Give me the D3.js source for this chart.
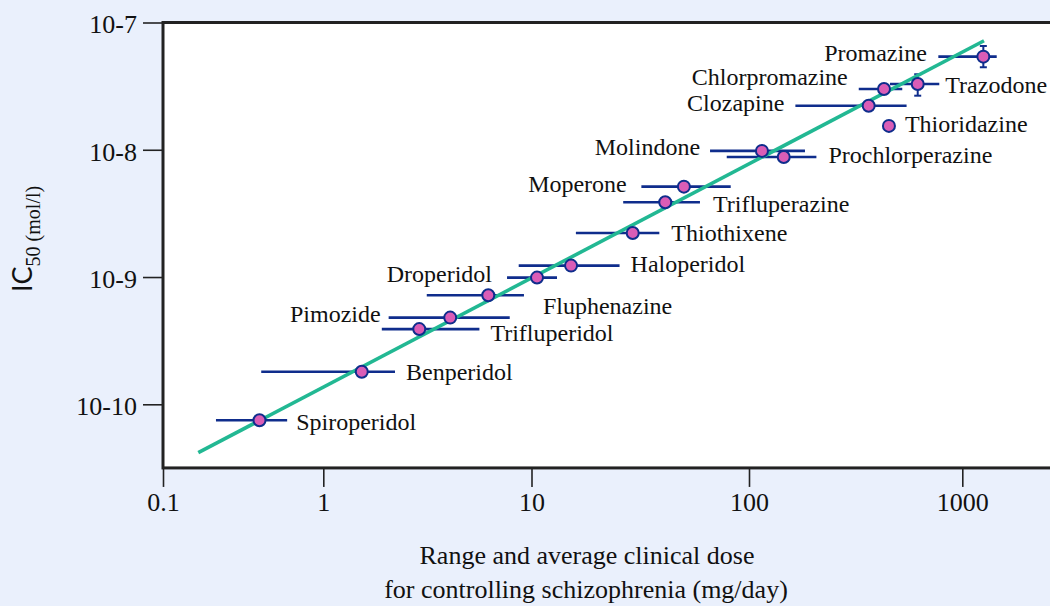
<!DOCTYPE html>
<html>
<head>
<meta charset="utf-8">
<script src="https://cdn.jsdelivr.net/npm/d3@7"></script>
<style>
  html, body { margin: 0; padding: 0; background: #EAF0FC; }
  svg { display: block; }
  text { font-family: "Liberation Serif", "Times New Roman", serif; fill: #111; }
  tspan.sans { font-family: "Lato", "Open Sans", "DejaVu Sans", sans-serif; }
</style>
</head>
<body>
<svg id="chart" width="1050" height="606"></svg>
<script>
// Antipsychotic drugs: clinical dose (mg/day) vs. IC50 for displacing [3H]haloperidol
const drugs = ["Spiroperidol", "Benperidol", "Trifluperidol", "Pimozide", "Fluphenazine",
  "Droperidol", "Haloperidol", "Thiothixene", "Trifluperazine", "Moperone", "Molindone",
  "Prochlorperazine", "Clozapine", "Thioridazine", "Chlorpromazine", "Trazodone", "Promazine"];

// average clinical dose and its range (mg/day)
const doseAvg = [0.40, 1.53, 2.89, 4.07, 6.2, 10.6, 15.2, 29.2, 41.2, 50.2, 115, 145.5, 364, 453, 429.5, 618, 1255];
const doseMin = [0.214, 0.41, 1.91, 2.06, 3.14, 7.63, 8.68, 16.0, 26.4, 32.0, 66.2, 79, 165, null, 327, 458, 772];
const doseMax = [0.595, 2.21, 5.62, 7.86, 9.2, 13.1, 25.4, 38.7, 59.5, 82.4, 183, 207, 548, null, 523, 780, 1450];

// IC50 (mol/l) and its spread where one was measured
const ic50 = [7.5e-11, 1.8e-10, 3.9e-10, 4.8e-10, 7.2e-10, 9.9e-10, 1.23e-9, 2.22e-9, 3.87e-9,
  5.13e-9, 9.8e-9, 8.77e-9, 2.22e-8, 1.54e-8, 3.0e-8, 3.29e-8, 5.39e-8];
const ic50Min = [null, null, null, null, null, null, null, null, null, null, null, null, null, null, null, 2.66e-8, 4.45e-8];
const ic50Max = [null, null, null, null, null, null, null, null, null, null, null, null, null, null, null, 3.92e-8, 6.54e-8];

// regression line end points
const fitDose = [0.166, 1264];
const fitIC50 = [4.17e-11, 7.19e-8];

// axis ticks
const xTicks = [0.1, 1, 10, 100, 1000];
const yTicks = [1e-7, 1e-8, 1e-9, 1e-10];

// label placement: side of the range bar, gap from bar end, baseline offset
const labelPlacement = {
  "Spiroperidol": ["right", 9, 9.7], "Benperidol": ["right", 11, 8.3],
  "Trifluperidol": ["right", 11, 12], "Pimozide": ["left", 8, 4.4],
  "Fluphenazine": ["right", 19, 19], "Droperidol": ["left", 15, 4],
  "Haloperidol": ["right", 11, 6], "Thiothixene": ["right", 12, 8],
  "Trifluperazine": ["right", 13, 9.4], "Moperone": ["left", 14.6, 5],
  "Molindone": ["left", 10, 4.3], "Prochlorperazine": ["right", 12, 5.7],
  "Clozapine": ["left", 11, 5], "Thioridazine": ["right", 16, 5.7],
  "Chlorpromazine": ["left", 11, -4], "Trazodone": ["right", 6, 8.7],
  "Promazine": ["left", 11.5, 4.3]
};

const svg = d3.select("#chart");
const frameLeft = 163, frameTop = 22.5, frameRight = 1062;

const x = d3.scaleLog()
  .domain(xTicks)
  .range([163, 323.3, 531.5, 749, 962.3]);

const y = d3.scaleLog()
  .domain([1e-7, 1e-10])
  .range([frameTop, 404.3]);

const frameBottom = y(Math.pow(10, -10.5));

// plot area
svg.append("rect")
  .attr("x", frameLeft).attr("y", frameTop)
  .attr("width", frameRight - frameLeft).attr("height", frameBottom - frameTop)
  .attr("fill", "#ffffff");

// x axis
const xAxis = svg.append("g")
  .attr("transform", `translate(0,${frameBottom})`)
  .call(d3.axisBottom(x).tickValues(xTicks).tickFormat(d3.format("~g")).tickSize(19).tickPadding(6));
xAxis.select(".domain").remove();
xAxis.selectAll("line").attr("stroke", "#222").attr("stroke-width", 1.6);
xAxis.selectAll("text")
  .attr("fill", "#111")
  .style("font-family", '"Liberation Serif", "Times New Roman", serif')
  .style("font-size", "26px");

// y axis
const yAxis = svg.append("g")
  .attr("transform", `translate(${frameLeft},0)`)
  .call(d3.axisLeft(y).tickValues(yTicks)
    .tickFormat(d => "10-" + Math.round(-Math.log10(d)))
    .tickSize(20).tickPadding(6));
yAxis.select(".domain").remove();
yAxis.selectAll("line").attr("stroke", "#222").attr("stroke-width", 1.6);
yAxis.selectAll("text")
  .attr("fill", "#111")
  .attr("dy", "0.4em")
  .style("font-family", '"Liberation Serif", "Times New Roman", serif')
  .style("font-size", "26px");

// frame border
svg.append("rect")
  .attr("x", frameLeft).attr("y", frameTop)
  .attr("width", frameRight - frameLeft).attr("height", frameBottom - frameTop)
  .attr("fill", "none").attr("stroke", "#222").attr("stroke-width", 3);

const rows = drugs.map((name, i) => ({
  name, avg: doseAvg[i], min: doseMin[i], max: doseMax[i],
  ic: ic50[i], icMin: ic50Min[i], icMax: ic50Max[i]
}));

const barColor = "#0f2d8c";

// dose range bars
svg.append("g").selectAll("line")
  .data(rows.filter(d => d.min != null))
  .join("line")
  .attr("x1", d => x(d.min)).attr("x2", d => x(d.max))
  .attr("y1", d => y(d.ic)).attr("y2", d => y(d.ic))
  .attr("stroke", barColor).attr("stroke-width", 2.6);

// IC50 spread bars with caps
const vbars = svg.append("g").selectAll("g")
  .data(rows.filter(d => d.icMin != null))
  .join("g")
  .attr("stroke", barColor).attr("stroke-width", 2);
vbars.append("line")
  .attr("x1", d => x(d.avg)).attr("x2", d => x(d.avg))
  .attr("y1", d => y(d.icMax)).attr("y2", d => y(d.icMin));
vbars.append("line")
  .attr("x1", d => x(d.avg) - 3.5).attr("x2", d => x(d.avg) + 3.5)
  .attr("y1", d => y(d.icMax)).attr("y2", d => y(d.icMax));
vbars.append("line")
  .attr("x1", d => x(d.avg) - 3.5).attr("x2", d => x(d.avg) + 3.5)
  .attr("y1", d => y(d.icMin)).attr("y2", d => y(d.icMin));

// regression line
svg.append("line")
  .attr("x1", x(fitDose[0])).attr("y1", y(fitIC50[0]))
  .attr("x2", x(fitDose[1])).attr("y2", y(fitIC50[1]))
  .attr("stroke", "#22b893").attr("stroke-width", 3.6);

// points
svg.append("g").selectAll("circle")
  .data(rows)
  .join("circle")
  .attr("cx", d => x(d.avg)).attr("cy", d => y(d.ic))
  .attr("r", 6)
  .attr("fill", "#da5db6")
  .attr("stroke", barColor).attr("stroke-width", 2);

// drug labels
svg.append("g").selectAll("text")
  .data(rows)
  .join("text")
  .attr("x", d => {
    const [side, gap] = labelPlacement[d.name];
    return side === "right"
      ? x(d.max != null ? d.max : d.avg) + gap
      : x(d.min != null ? d.min : d.avg) - gap;
  })
  .attr("y", d => y(d.ic) + labelPlacement[d.name][2])
  .attr("text-anchor", d => labelPlacement[d.name][0] === "right" ? "start" : "end")
  .style("font-size", "24px")
  .text(d => d.name);

// x axis title
const xTitle = svg.append("text")
  .attr("text-anchor", "middle")
  .style("font-size", "26px");
xTitle.append("tspan").attr("x", 587).attr("y", 564).text("Range and average clinical dose");
xTitle.append("tspan").attr("x", 586).attr("y", 598).text("for controlling schizophrenia (mg/day)");

// y axis title: sans "IC" with serif subscript
const yTitle = svg.append("text")
  .attr("transform", "translate(32,292) rotate(-90)")
  .attr("text-anchor", "start");
yTitle.append("tspan")
  .attr("class", "sans")
  .style("font-size", "27px")
  .text("IC");
yTitle.append("tspan")
  .attr("dy", 8)
  .style("font-size", "20px")
  .text("50 (mol/l)");
</script>
</body>
</html>
